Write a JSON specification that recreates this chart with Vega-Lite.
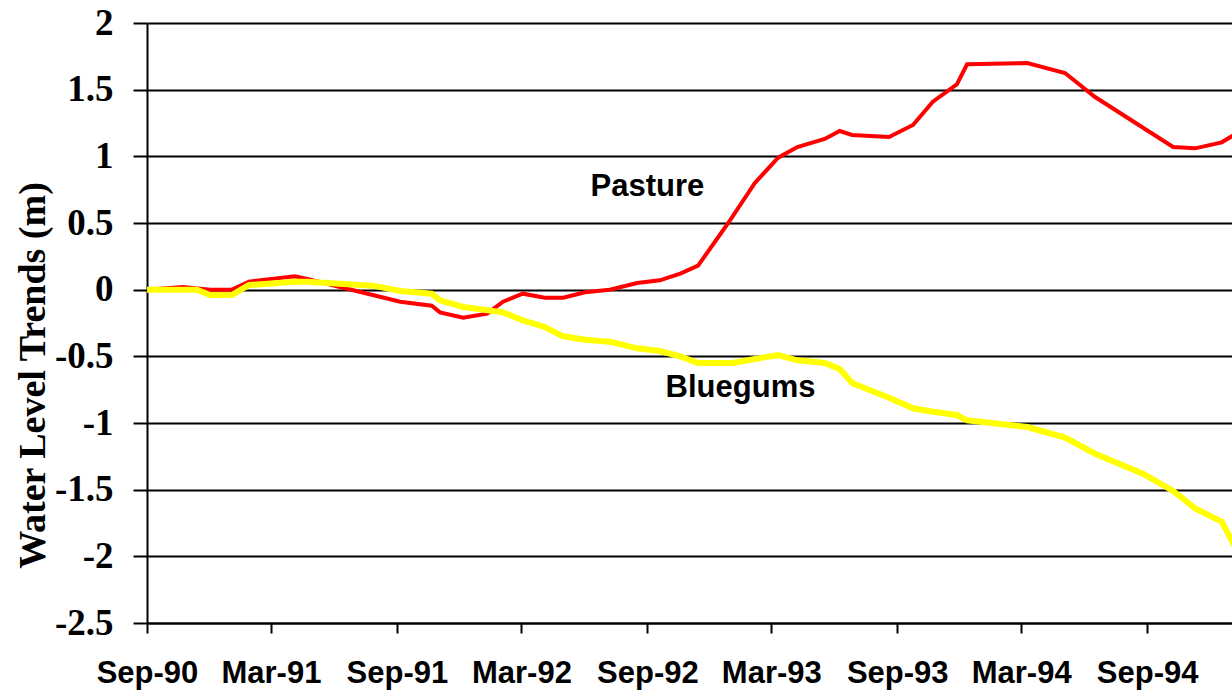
{
  "$schema": "https://vega.github.io/schema/vega-lite/v6.json",
  "autosize": {"type": "none"},
  "width": 1085,
  "height": 600,
  "padding": {"left": 147, "top": 23, "right": 0, "bottom": 70},
  "background": "white",
  "config": {"view": {"stroke": null}},
  "datasets": {
    "pasture": [
      {"date": "1990-09-01T00:00:00", "level": 0},
      {"date": "1990-10-23T00:00:00", "level": 0.02},
      {"date": "1990-12-02T00:00:00", "level": 0.0},
      {"date": "1991-01-03T00:00:00", "level": 0.0},
      {"date": "1991-01-28T00:00:00", "level": 0.06},
      {"date": "1991-04-05T00:00:00", "level": 0.10},
      {"date": "1991-04-23T00:00:00", "level": 0.08},
      {"date": "1991-09-06T00:00:00", "level": -0.09},
      {"date": "1991-10-22T00:00:00", "level": -0.12},
      {"date": "1991-11-03T00:00:00", "level": -0.17},
      {"date": "1991-12-07T00:00:00", "level": -0.21},
      {"date": "1992-01-11T00:00:00", "level": -0.18},
      {"date": "1992-02-03T00:00:00", "level": -0.09},
      {"date": "1992-03-03T00:00:00", "level": -0.03},
      {"date": "1992-04-04T00:00:00", "level": -0.06},
      {"date": "1992-05-01T00:00:00", "level": -0.06},
      {"date": "1992-06-02T00:00:00", "level": -0.02},
      {"date": "1992-07-08T00:00:00", "level": 0.0},
      {"date": "1992-08-17T00:00:00", "level": 0.05},
      {"date": "1992-09-19T00:00:00", "level": 0.07},
      {"date": "1992-10-19T00:00:00", "level": 0.12},
      {"date": "1992-11-14T00:00:00", "level": 0.18},
      {"date": "1992-12-28T00:00:00", "level": 0.50},
      {"date": "1993-02-05T00:00:00", "level": 0.80},
      {"date": "1993-03-11T00:00:00", "level": 0.99},
      {"date": "1993-04-08T00:00:00", "level": 1.07},
      {"date": "1993-05-18T00:00:00", "level": 1.13},
      {"date": "1993-06-09T00:00:00", "level": 1.19},
      {"date": "1993-06-27T00:00:00", "level": 1.16},
      {"date": "1993-08-20T00:00:00", "level": 1.145},
      {"date": "1993-09-24T00:00:00", "level": 1.235},
      {"date": "1993-10-23T00:00:00", "level": 1.41},
      {"date": "1993-11-27T00:00:00", "level": 1.54},
      {"date": "1993-12-12T00:00:00", "level": 1.69},
      {"date": "1994-03-10T00:00:00", "level": 1.70},
      {"date": "1994-05-04T00:00:00", "level": 1.625},
      {"date": "1994-06-17T00:00:00", "level": 1.445},
      {"date": "1994-10-09T00:00:00", "level": 1.07},
      {"date": "1994-11-10T00:00:00", "level": 1.06},
      {"date": "1994-12-19T00:00:00", "level": 1.105},
      {"date": "1995-01-22T00:00:00", "level": 1.21}
    ],
    "bluegums": [
      {"date": "1990-09-01T00:00:00", "level": 0},
      {"date": "1990-11-13T00:00:00", "level": 0.0},
      {"date": "1990-12-02T00:00:00", "level": -0.04},
      {"date": "1991-01-03T00:00:00", "level": -0.04},
      {"date": "1991-01-28T00:00:00", "level": 0.035},
      {"date": "1991-04-05T00:00:00", "level": 0.06},
      {"date": "1991-04-23T00:00:00", "level": 0.06},
      {"date": "1991-07-28T00:00:00", "level": 0.03},
      {"date": "1991-09-06T00:00:00", "level": -0.01},
      {"date": "1991-10-22T00:00:00", "level": -0.03},
      {"date": "1991-11-03T00:00:00", "level": -0.08},
      {"date": "1991-12-07T00:00:00", "level": -0.13},
      {"date": "1992-02-03T00:00:00", "level": -0.17},
      {"date": "1992-03-03T00:00:00", "level": -0.23},
      {"date": "1992-04-04T00:00:00", "level": -0.28},
      {"date": "1992-05-01T00:00:00", "level": -0.35},
      {"date": "1992-06-02T00:00:00", "level": -0.375},
      {"date": "1992-07-08T00:00:00", "level": -0.39},
      {"date": "1992-08-17T00:00:00", "level": -0.44},
      {"date": "1992-09-19T00:00:00", "level": -0.46},
      {"date": "1992-10-19T00:00:00", "level": -0.50},
      {"date": "1992-11-14T00:00:00", "level": -0.55},
      {"date": "1993-01-03T00:00:00", "level": -0.55},
      {"date": "1993-02-05T00:00:00", "level": -0.52},
      {"date": "1993-03-11T00:00:00", "level": -0.49},
      {"date": "1993-04-08T00:00:00", "level": -0.53},
      {"date": "1993-05-18T00:00:00", "level": -0.55},
      {"date": "1993-06-09T00:00:00", "level": -0.595},
      {"date": "1993-06-27T00:00:00", "level": -0.70},
      {"date": "1993-08-20T00:00:00", "level": -0.81},
      {"date": "1993-09-24T00:00:00", "level": -0.89},
      {"date": "1993-10-23T00:00:00", "level": -0.915},
      {"date": "1993-11-27T00:00:00", "level": -0.94},
      {"date": "1993-12-12T00:00:00", "level": -0.98},
      {"date": "1994-03-10T00:00:00", "level": -1.03},
      {"date": "1994-05-04T00:00:00", "level": -1.11},
      {"date": "1994-06-17T00:00:00", "level": -1.23},
      {"date": "1994-08-26T00:00:00", "level": -1.38},
      {"date": "1994-10-09T00:00:00", "level": -1.51},
      {"date": "1994-11-10T00:00:00", "level": -1.64},
      {"date": "1994-12-19T00:00:00", "level": -1.74},
      {"date": "1995-01-22T00:00:00", "level": -2.07}
    ],
    "labels": [
      {"date": "1992-09-01T00:00:00", "level": 0.70, "text": "Pasture"},
      {"date": "1993-01-15T00:00:00", "level": -0.805, "text": "Bluegums"}
    ]
  },
  "encoding": {
    "x": {
      "field": "date",
      "type": "temporal",
      "scale": {"domain": [{"year": 1990, "month": 9, "date": 1}, {"year": 1995, "month": 1, "date": 3}]},
      "axis": {
        "title": null,
        "values": [
          {"year": 1990, "month": 9, "date": 1},
          {"year": 1991, "month": 3, "date": 1},
          {"year": 1991, "month": 9, "date": 1},
          {"year": 1992, "month": 3, "date": 1},
          {"year": 1992, "month": 9, "date": 1},
          {"year": 1993, "month": 3, "date": 1},
          {"year": 1993, "month": 9, "date": 1},
          {"year": 1994, "month": 3, "date": 1},
          {"year": 1994, "month": 9, "date": 1}
        ],
        "format": "%b-%y",
        "grid": false,
        "domainColor": "black",
        "domainWidth": 2,
        "tickColor": "black",
        "tickWidth": 2,
        "tickSize": 10,
        "labelFont": "Liberation Sans",
        "labelFontWeight": "bold",
        "labelFontSize": 31,
        "labelColor": "black",
        "labelPadding": 25,
        "labelFlush": false,
        "labelOverlap": false
      }
    },
    "y": {
      "field": "level",
      "type": "quantitative",
      "scale": {"domain": [-2.5, 2], "nice": false, "zero": false},
      "axis": {
        "title": "Water Level Trends (m)",
        "titleFont": "Liberation Serif",
        "titleFontWeight": "bold",
        "titleFontSize": 38,
        "titleColor": "black",
        "titleX": -114,
        "titleY": 352,
        "titleAngle": -90,
        "titleAlign": "center",
        "titleBaseline": "middle",
        "values": [-2.5, -2, -1.5, -1, -0.5, 0, 0.5, 1, 1.5, 2],
        "labelExpr": "'' + datum.value",
        "grid": true,
        "gridColor": "black",
        "gridWidth": 2,
        "gridOpacity": 1,
        "domainColor": "black",
        "domainWidth": 2,
        "tickColor": "black",
        "tickWidth": 2,
        "tickSize": 14,
        "labelFont": "Liberation Serif",
        "labelFontWeight": "bold",
        "labelFontSize": 37,
        "labelColor": "black",
        "labelPadding": 20,
        "labelFlush": false,
        "labelOverlap": false
      }
    }
  },
  "layer": [
    {
      "data": {"name": "pasture"},
      "mark": {"type": "line", "color": "#FF0000", "strokeWidth": 4, "clip": true}
    },
    {
      "data": {"name": "bluegums"},
      "mark": {"type": "line", "color": "#FFFF00", "strokeWidth": 6, "clip": true}
    },
    {
      "data": {"name": "labels"},
      "mark": {"type": "text", "font": "Liberation Sans", "fontWeight": "bold", "fontSize": 31, "color": "black", "align": "center", "baseline": "alphabetic"},
      "encoding": {"text": {"field": "text", "type": "nominal"}}
    }
  ]
}
